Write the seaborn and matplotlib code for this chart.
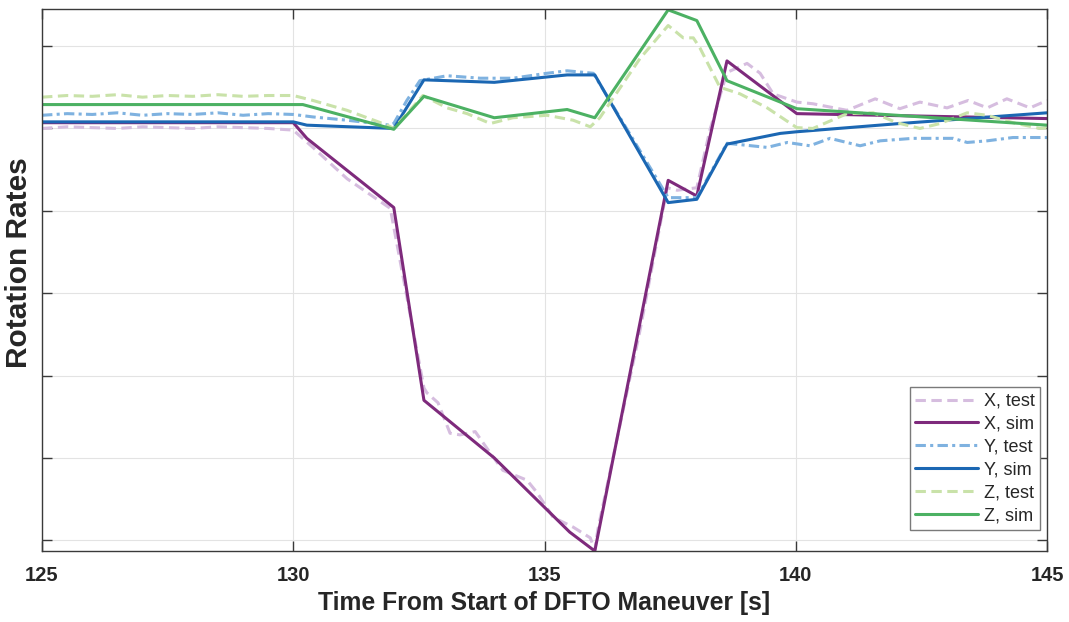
import pandas as pd
import matplotlib
matplotlib.use('Agg')
import matplotlib.pyplot as plt
import seaborn as sns

# X axis rotation rate
x_sim_t = [125, 130.0, 130.27, 132.0, 132.6, 134.0, 135.5, 136.0, 137.46, 138.03, 138.63, 140.02, 145]
x_sim_v = [2.07, 2.07, 1.88, 1.04, -1.30, -2.00, -2.90, -3.13, 1.37, 1.18, 2.82, 2.18, 2.12]
x_test_t = [125, 125.5, 126, 126.5, 127, 127.5, 128, 128.5, 129, 129.5, 130.0, 130.39, 131.07,
            131.93, 132.6, 132.66, 132.88, 133.12, 133.32, 133.62, 133.92, 134.17, 134.65,
            134.85, 135.17, 135.57, 135.91, 136.0, 136.06, 136.9, 137.44, 137.64, 138.03,
            138.29, 138.63, 139.03, 139.29, 139.55, 140.02, 140.34, 141.02, 141.58, 142.07,
            142.47, 143.01, 143.43, 143.81, 144.2, 144.66, 145]
x_test_v = [2.00, 2.02, 2.01, 2.00, 2.02, 2.01, 2.00, 2.02, 2.01, 2.00, 1.98, 1.77, 1.39,
            1.03, -1.15, -1.21, -1.33, -1.70, -1.72, -1.68, -1.94, -2.15, -2.27,
            -2.42, -2.72, -2.84, -2.97, -3.12, -2.87, -0.45, 1.28, 1.25, 1.28,
            1.98, 2.68, 2.79, 2.67, 2.42, 2.32, 2.30, 2.22, 2.36, 2.24,
            2.32, 2.25, 2.34, 2.25, 2.36, 2.25, 2.34]

# Y axis rotation rate
y_sim_t = [125, 130.0, 130.27, 132.0, 132.6, 134.0, 135.45, 136.0, 137.46, 138.03, 138.63, 139.69, 140.02, 142.07, 145]
y_sim_v = [2.08, 2.08, 2.04, 2.00, 2.59, 2.56, 2.65, 2.65, 1.10, 1.14, 1.81, 1.94, 1.96, 2.06, 2.19]
y_test_t = [125, 125.5, 126, 126.5, 127, 127.5, 128, 128.5, 129, 129.5, 130.0, 130.39, 131.07,
            131.93, 132.0, 132.26, 132.52, 133.06, 133.72, 134.37, 135.05, 135.45, 135.97,
            137.46, 138.03, 138.63, 139.43, 139.83, 140.28, 140.68, 141.28, 141.68, 142.33,
            143.13, 143.41, 143.81, 144.32, 145]
y_test_v = [2.16, 2.18, 2.17, 2.19, 2.16, 2.18, 2.17, 2.19, 2.16, 2.18, 2.17, 2.14, 2.10,
            2.04, 2.06, 2.34, 2.58, 2.64, 2.61, 2.61, 2.67, 2.70, 2.67,
            1.16, 1.16, 1.82, 1.77, 1.83, 1.79, 1.88, 1.79, 1.85, 1.88,
            1.88, 1.83, 1.85, 1.89, 1.89]

# Z axis rotation rate
z_sim_t = [125, 130.0, 130.19, 132.0, 132.6, 134.0, 135.45, 136.0, 137.46, 138.03, 138.63, 140.02, 145]
z_sim_v = [2.29, 2.29, 2.29, 1.99, 2.39, 2.13, 2.23, 2.13, 3.44, 3.31, 2.58, 2.24, 2.04]
z_test_t = [125, 125.5, 126, 126.5, 127, 127.5, 128, 128.5, 129, 129.5, 130.0, 130.39, 131.07,
            131.87, 132.0, 132.58, 133.06, 133.46, 133.92, 134.37, 135.05, 135.57, 135.91,
            136.1, 136.9, 137.46, 137.76, 137.96, 138.09, 138.49, 138.89, 139.43, 140.02,
            140.34, 141.02, 141.54, 142.01, 142.47, 142.87, 143.41, 143.81, 144.32, 144.86, 145]
z_test_v = [2.38, 2.40, 2.39, 2.41, 2.38, 2.40, 2.39, 2.41, 2.39, 2.40, 2.40, 2.34, 2.22,
            2.04, 2.00, 2.40, 2.25, 2.18, 2.06, 2.13, 2.16, 2.10, 2.02,
            2.13, 2.85, 3.25, 3.10, 3.10, 2.98, 2.50, 2.42, 2.25, 2.01,
            2.00, 2.18, 2.19, 2.07, 2.00, 2.06, 2.19, 2.16, 2.07, 2.00, 2.01]

x_ticks = [125, 130, 135, 140, 145]
y_ticks = [-3, -2, -1, 0, 1, 2, 3]

sns.set_style('whitegrid', {'grid.color': '#e3e3e3', 'axes.edgecolor': '#3a3a3a'})
plt.rcParams['font.family'] = ['Liberation Sans', 'DejaVu Sans']

fig = plt.figure(figsize=(10.69, 6.22), dpi=100)
ax = fig.add_axes([0.0393, 0.1141, 0.9402, 0.8714])

lw = 2.2
series = [
    (x_test_t, x_test_v, '#d6bddf', (3.4, 1.8), 'X, test'),
    (x_sim_t, x_sim_v, '#7e2a7c', None, 'X, sim'),
    (y_test_t, y_test_v, '#7fb2e0', (3.4, 1.4, 1.0, 1.4), 'Y, test'),
    (y_sim_t, y_sim_v, '#1b67b3', None, 'Y, sim'),
    (z_test_t, z_test_v, '#c9e2a9', (3.4, 1.8), 'Z, test'),
    (z_sim_t, z_sim_v, '#4cb163', None, 'Z, sim'),
]
for t, v, col, dash, lab in series:
    df = pd.DataFrame({'t': t, 'v': v})
    line_ax = sns.lineplot(data=df, x='t', y='v', ax=ax, color=col, linewidth=lw, label=lab)
    if dash is not None:
        line_ax.get_lines()[-1].set_dashes(dash)

ax.set_xlim(125, 145)
ax.set_ylim(-3.13, 3.45)
ax.set_xticks(x_ticks)
ax.set_yticks(y_ticks)
ax.set_yticklabels([])
for lbl in ax.get_xticklabels():
    lbl.set_fontweight('bold')
ax.tick_params(axis='x', labelsize=14.5, pad=11)
ax.tick_params(direction='in', length=7, width=1, color='#3a3a3a',
               top=True, right=True, left=True, bottom=True)
for s in ax.spines.values():
    s.set_linewidth(1.0)
ax.set_xlabel('Time From Start of DFTO Maneuver [s]', fontsize=17.8, fontweight='bold', labelpad=4)
ax.set_ylabel('Rotation Rates', fontsize=21.5, fontweight='bold')
ax.yaxis.set_label_coords(-0.009, 0.533)

leg = ax.legend(loc='lower right', bbox_to_anchor=(0.993, 0.0387), borderaxespad=0,
                fontsize=13, handlelength=3.5, handletextpad=0.3, labelspacing=0.33,
                fancybox=False, framealpha=1, edgecolor='#7a7a7a', borderpad=0.3)
leg.get_frame().set_linewidth(1.0)

fig.savefig('out.png', dpi=100)
